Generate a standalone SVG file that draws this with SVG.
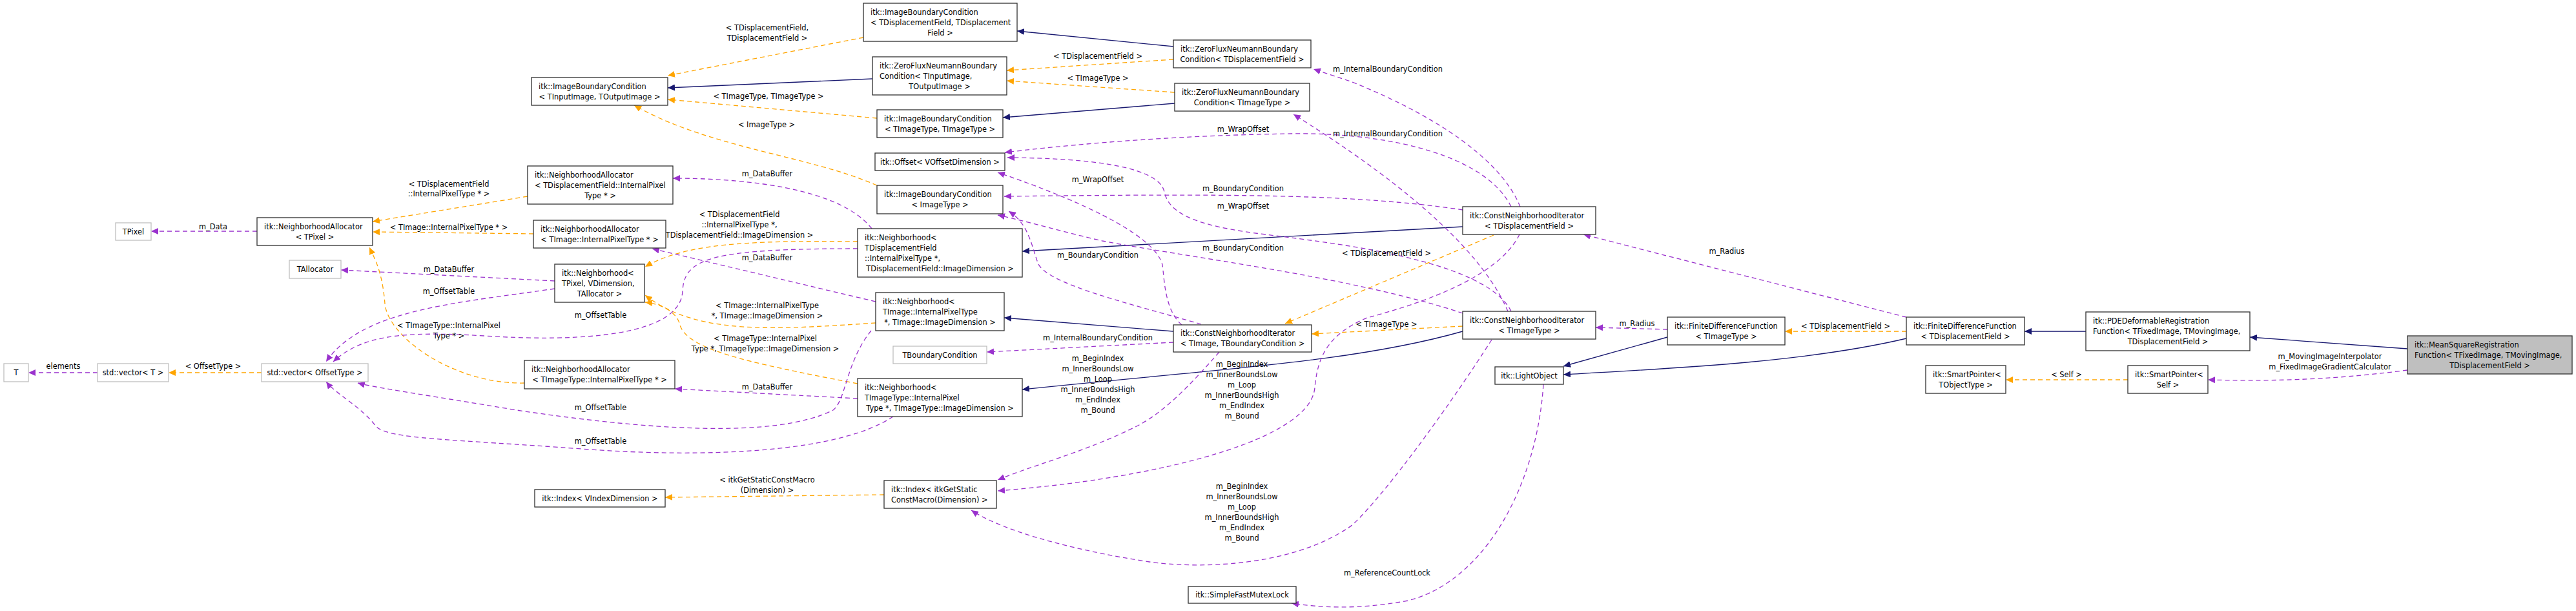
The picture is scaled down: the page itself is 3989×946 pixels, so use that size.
<svg xmlns="http://www.w3.org/2000/svg" width="3989" height="946" viewBox="0 0 3989 946">
<style>
text{font-family:"DejaVu Sans","Liberation Sans",sans-serif;font-size:11.4px;fill:#000}
.m{text-anchor:middle}
.b{fill:#fff;stroke:#303030;stroke-width:1.3}
.g{fill:#fff;stroke:#bfbfbf;stroke-width:1.3}
.main{fill:#bfbfbf;stroke:#303030;stroke-width:1.3}
.e{fill:none;stroke-width:1.3}
.nv{stroke:#191970;marker-end:url(#an)}
.or{stroke:#ffa500;stroke-dasharray:7,5;marker-end:url(#ao)}
.pu{stroke:#9a32cd;stroke-dasharray:7,5;marker-end:url(#ap)}
</style>
<defs>
<marker id="an" markerWidth="12" markerHeight="10" refX="11" refY="5" orient="auto" markerUnits="userSpaceOnUse"><path d="M0,0 L11,5 L0,10 Z" fill="#191970"/></marker>
<marker id="ao" markerWidth="12" markerHeight="10" refX="11" refY="5" orient="auto" markerUnits="userSpaceOnUse"><path d="M0,0 L11,5 L0,10 Z" fill="#ffa500"/></marker>
<marker id="ap" markerWidth="12" markerHeight="10" refX="11" refY="5" orient="auto" markerUnits="userSpaceOnUse"><path d="M0,0 L11,5 L0,10 Z" fill="#9a32cd"/></marker>
</defs>
<rect width="3989" height="946" fill="#fff"/>
<g id="connectors">
<path class="e nv" d="M3728,540 L3484,522"/>
<path class="e nv" d="M3230,513 L3135,513"/>
<path class="e nv" d="M2952,524 C2800,560 2600,570 2421,580"/>
<path class="e nv" d="M2582,522 L2421,567"/>
<path class="e nv" d="M2265,351 L1583,389"/>
<path class="e nv" d="M2265,513 C2100,560 1900,570 1583,603"/>
<path class="e nv" d="M1817,513 L1555,492"/>
<path class="e nv" d="M1817,72 L1575,48"/>
<path class="e nv" d="M1351,122 L1034,136"/>
<path class="e nv" d="M1819,160 L1553,182"/>

<path class="e or" d="M1337,58 L1034,117"/>
<path class="e or" d="M1358,183 L1034,154"/>
<path class="e or" d="M1358,287 C1250,240 1100,230 982,163"/>
<path class="e or" d="M1817,92 L1559,109"/>
<path class="e or" d="M1819,143 L1559,125"/>
<path class="e or" d="M817,304 L577,343"/>
<path class="e or" d="M826,362 L577,359"/>
<path class="e or" d="M812,593 C700,595 600,520 596,470 C592,420 580,400 572,383"/>
<path class="e or" d="M405,577 L261,577"/>
<path class="e or" d="M1328,374 C1150,372 1060,378 999,413"/>
<path class="e or" d="M1356,500 C1200,510 1080,520 999,457"/>
<path class="e or" d="M1328,594 C1150,560 1060,540 1052,500 C1045,480 1020,470 999,468"/>
<path class="e or" d="M1369,766 L1030,770"/>
<path class="e or" d="M2313,364 L1990,501"/>
<path class="e or" d="M2265,505 L2031,517"/>
<path class="e or" d="M2952,513 L2764,513"/>
<path class="e or" d="M3295,588 L3106,588"/>

<path class="e pu" d="M3728,573 C3600,590 3500,590 3419,588"/>
<path class="e pu" d="M2582,510 L2471,507"/>
<path class="e pu" d="M2952,491 L2452,363"/>
<path class="e pu" d="M151,577 L44,577"/>
<path class="e pu" d="M398,358 L234,358"/>
<path class="e pu" d="M859,435 L528,418"/>
<path class="e pu" d="M859,447 C700,470 560,480 505,560"/>
<path class="e pu" d="M1350,354 C1300,290 1150,276 1042,276"/>
<path class="e pu" d="M1328,385 C1100,385 1060,400 1057,450 C1055,520 900,530 750,520 C620,512 560,520 516,560"/>
<path class="e pu" d="M1356,467 L1010,385"/>
<path class="e pu" d="M1349,512 C1310,560 1310,620 1290,635 C1200,680 1000,665 800,635 C650,610 580,600 554,593"/>
<path class="e pu" d="M1328,617 L1045,602"/>
<path class="e pu" d="M1383,645 C1300,700 1100,710 900,695 C700,680 600,680 582,660 C560,630 520,610 505,591"/>
<path class="e pu" d="M1817,530 L1528,545"/>
<path class="e pu" d="M1888,545 C1840,600 1800,640 1760,660 C1680,700 1600,720 1545,743"/>
<path class="e pu" d="M2353,363 C2320,430 2200,470 2117,492 C2050,520 2040,560 2036,600 C2030,680 1800,740 1545,760"/>
<path class="e pu" d="M2310,526 C2250,620 2150,760 2094,813 C2000,880 1850,880 1780,870 C1650,850 1550,820 1504,790"/>
<path class="e pu" d="M2390,595 C2380,750 2300,900 2180,930 C2100,945 2040,940 2000,934"/>
<path class="e pu" d="M2354,320 C2330,260 2250,190 2094,127 L2034,107"/>
<path class="e pu" d="M2335,482 C2300,400 2200,300 2003,177"/>
<path class="e pu" d="M2340,320 C2300,240 2150,205 2000,207 C1800,210 1650,225 1556,236"/>
<path class="e pu" d="M2340,482 C2300,400 2050,375 1960,363 C1850,350 1810,330 1803,297 C1795,260 1700,245 1560,244"/>
<path class="e pu" d="M1830,503 C1803,480 1803,430 1800,410 C1790,370 1700,320 1545,267"/>
<path class="e pu" d="M2265,325 C2100,300 1900,300 1555,304"/>
<path class="e pu" d="M2265,485 C2100,430 1850,400 1707,373 C1650,360 1580,340 1545,333"/>
<path class="e pu" d="M1860,502 C1750,470 1620,440 1607,407 C1595,370 1590,345 1562,327"/>

<g class="m">
<text x="1188" y="47">&lt; TDisplacementField,</text><text x="1188" y="63">TDisplacementField &gt;</text>
<text x="1190" y="153">&lt; TImageType, TImageType &gt;</text>
<text x="1187" y="197">&lt; ImageType &gt;</text>
<text x="1700" y="91">&lt; TDisplacementField &gt;</text>
<text x="1700" y="125">&lt; TImageType &gt;</text>
<text x="695" y="289">&lt; TDisplacementField</text><text x="695" y="304">::InternalPixelType * &gt;</text>
<text x="695" y="356">&lt; TImage::InternalPixelType * &gt;</text>
<text x="695" y="508">&lt; TImageType::InternalPixel</text><text x="695" y="524">Type * &gt;</text>
<text x="330" y="571">&lt; OffsetType &gt;</text>
<text x="1145" y="336">&lt; TDisplacementField</text><text x="1145" y="352">::InternalPixelType *,</text><text x="1145" y="368">TDisplacementField::ImageDimension &gt;</text>
<text x="1188" y="477">&lt; TImage::InternalPixelType</text><text x="1188" y="493">*, TImage::ImageDimension &gt;</text>
<text x="1185" y="528">&lt; TImageType::InternalPixel</text><text x="1185" y="544">Type *, TImageType::ImageDimension &gt;</text>
<text x="1188" y="747">&lt; itkGetStaticConstMacro</text><text x="1188" y="763">(Dimension) &gt;</text>
<text x="2147" y="396">&lt; TDisplacementField &gt;</text>
<text x="2147" y="506">&lt; TImageType &gt;</text>
<text x="2858" y="509">&lt; TDisplacementField &gt;</text>
<text x="3200" y="584">&lt; Self &gt;</text>
<text x="3608" y="556">m_MovingImageInterpolator</text><text x="3608" y="572">m_FixedImageGradientCalculator</text>
<text x="2535" y="505">m_Radius</text>
<text x="2674" y="393">m_Radius</text>
<text x="98" y="571">elements</text>
<text x="330" y="355">m_Data</text>
<text x="695" y="421">m_DataBuffer</text>
<text x="695" y="455">m_OffsetTable</text>
<text x="1188" y="273">m_DataBuffer</text>
<text x="930" y="492">m_OffsetTable</text>
<text x="1188" y="403">m_DataBuffer</text>
<text x="930" y="635">m_OffsetTable</text>
<text x="1188" y="603">m_DataBuffer</text>
<text x="930" y="687">m_OffsetTable</text>
<text x="1700" y="527">m_InternalBoundaryCondition</text>
<text x="1700" y="559">m_BeginIndex</text><text x="1700" y="575">m_InnerBoundsLow</text><text x="1700" y="591">m_Loop</text><text x="1700" y="607">m_InnerBoundsHigh</text><text x="1700" y="623">m_EndIndex</text><text x="1700" y="639">m_Bound</text>
<text x="1923" y="568">m_BeginIndex</text><text x="1923" y="584">m_InnerBoundsLow</text><text x="1923" y="600">m_Loop</text><text x="1923" y="616">m_InnerBoundsHigh</text><text x="1923" y="632">m_EndIndex</text><text x="1923" y="648">m_Bound</text>
<text x="1923" y="757">m_BeginIndex</text><text x="1923" y="773">m_InnerBoundsLow</text><text x="1923" y="789">m_Loop</text><text x="1923" y="805">m_InnerBoundsHigh</text><text x="1923" y="821">m_EndIndex</text><text x="1923" y="837">m_Bound</text>
<text x="2148" y="891">m_ReferenceCountLock</text>
<text x="2149" y="111">m_InternalBoundaryCondition</text>
<text x="2149" y="211">m_InternalBoundaryCondition</text>
<text x="1925" y="204">m_WrapOffset</text>
<text x="1925" y="323">m_WrapOffset</text>
<text x="1700" y="282">m_WrapOffset</text>
<text x="1925" y="296">m_BoundaryCondition</text>
<text x="1925" y="388">m_BoundaryCondition</text>
<text x="1700" y="399">m_BoundaryCondition</text>
</g>
</g>

<g id="n_T"><rect class="g" x="6" y="563" width="38" height="28"/><text class="m" x="25" y="581">T</text></g>
<g id="n_vecT"><rect class="g" x="151" y="563" width="110" height="28"/><text class="m" x="206" y="581">std::vector&lt; T &gt;</text></g>
<g id="n_vecOff"><rect class="g" x="405" y="563" width="165" height="28"/><text class="m" x="487.5" y="581">std::vector&lt; OffsetType &gt;</text></g>
<g id="n_TPixel"><rect class="g" x="179" y="345" width="55" height="27"/><text class="m" x="206.5" y="362.5">TPixel</text></g>
<g id="n_NA_TPixel"><rect class="b" x="398" y="337" width="179" height="43"/><text x="409" y="354.5">itk::NeighborhoodAllocator</text><text class="m" x="487.5" y="370.5">&lt; TPixel &gt;</text></g>
<g id="n_TAllocator"><rect class="g" x="448" y="403" width="80" height="28"/><text class="m" x="488" y="421">TAllocator</text></g>
<g id="n_NA_DF"><rect class="b" x="817" y="257" width="225" height="59"/><text x="828" y="274.5">itk::NeighborhoodAllocator</text><text x="828" y="290.5">&lt; TDisplacementField::InternalPixel</text><text class="m" x="929.5" y="306.5">Type * &gt;</text></g>
<g id="n_NA_TImage"><rect class="b" x="826" y="341" width="205" height="43"/><text x="837" y="358.5">itk::NeighborhoodAllocator</text><text class="m" x="928.5" y="374.5">&lt; TImage::InternalPixelType * &gt;</text></g>
<g id="n_Nbh_TPixel"><rect class="b" x="859" y="409" width="139" height="59"/><text x="870" y="426.5">itk::Neighborhood&lt;</text><text x="870" y="442.5">TPixel, VDimension,</text><text class="m" x="928.5" y="458.5">TAllocator &gt;</text></g>
<g id="n_NA_TImageType"><rect class="b" x="812" y="558" width="233" height="44"/><text x="823" y="576">itk::NeighborhoodAllocator</text><text class="m" x="928.5" y="592">&lt; TImageType::InternalPixelType * &gt;</text></g>
<g id="n_IBC_In"><rect class="b" x="823" y="120" width="211" height="43"/><text x="834" y="137.5">itk::ImageBoundaryCondition</text><text class="m" x="928.5" y="153.5">&lt; TInputImage, TOutputImage &gt;</text></g>
<g id="n_IBC_DF"><rect class="b" x="1337" y="5" width="238" height="59"/><text x="1348" y="22.5">itk::ImageBoundaryCondition</text><text x="1348" y="38.5">&lt; TDisplacementField, TDisplacement</text><text class="m" x="1456" y="54.5">Field &gt;</text></g>
<g id="n_ZF_In"><rect class="b" x="1351" y="88" width="208" height="59"/><text x="1362" y="105.5">itk::ZeroFluxNeumannBoundary</text><text x="1362" y="121.5">Condition&lt; TInputImage,</text><text class="m" x="1455" y="137.5">TOutputImage &gt;</text></g>
<g id="n_IBC_TT"><rect class="b" x="1358" y="170" width="195" height="43"/><text x="1369" y="187.5">itk::ImageBoundaryCondition</text><text class="m" x="1455.5" y="203.5">&lt; TImageType, TImageType &gt;</text></g>
<g id="n_Offset"><rect class="b" x="1355" y="237" width="201" height="27"/><text class="m" x="1455.5" y="254.5">itk::Offset&lt; VOffsetDimension &gt;</text></g>
<g id="n_IBC_Img"><rect class="b" x="1358" y="287" width="195" height="44"/><text x="1369" y="305">itk::ImageBoundaryCondition</text><text class="m" x="1455.5" y="321">&lt; ImageType &gt;</text></g>
<g id="n_Nbh_DF"><rect class="b" x="1328" y="354" width="255" height="75"/><text x="1339" y="371.5">itk::Neighborhood&lt;</text><text x="1339" y="387.5"> TDisplacementField</text><text x="1339" y="403.5">::InternalPixelType *,</text><text class="m" x="1455.5" y="419.5">TDisplacementField::ImageDimension &gt;</text></g>
<g id="n_Nbh_TImage"><rect class="b" x="1356" y="453" width="199" height="59"/><text x="1367" y="470.5">itk::Neighborhood&lt;</text><text x="1367" y="486.5"> TImage::InternalPixelType</text><text class="m" x="1455.5" y="502.5">*, TImage::ImageDimension &gt;</text></g>
<g id="n_TBC"><rect class="g" x="1383" y="536" width="145" height="27"/><text class="m" x="1455.5" y="553.5">TBoundaryCondition</text></g>
<g id="n_Nbh_TIT"><rect class="b" x="1328" y="586" width="255" height="59"/><text x="1339" y="603.5">itk::Neighborhood&lt;</text><text x="1339" y="619.5"> TImageType::InternalPixel</text><text class="m" x="1455.5" y="635.5">Type *, TImageType::ImageDimension &gt;</text></g>
<g id="n_Index_V"><rect class="b" x="828" y="758" width="202" height="27"/><text class="m" x="929" y="775.5">itk::Index&lt; VIndexDimension &gt;</text></g>
<g id="n_Index_G"><rect class="b" x="1369" y="744" width="174" height="43"/><text x="1380" y="761.5">itk::Index&lt; itkGetStatic</text><text x="1380" y="777.5">ConstMacro(Dimension) &gt;</text></g>
<g id="n_ZF_DF"><rect class="b" x="1817" y="62" width="213" height="43"/><text x="1828" y="79.5">itk::ZeroFluxNeumannBoundary</text><text class="m" x="1923.5" y="95.5">Condition&lt; TDisplacementField &gt;</text></g>
<g id="n_ZF_TT"><rect class="b" x="1819" y="129" width="209" height="43"/><text x="1830" y="146.5">itk::ZeroFluxNeumannBoundary</text><text class="m" x="1923.5" y="162.5">Condition&lt; TImageType &gt;</text></g>
<g id="n_CNI_DF"><rect class="b" x="2265" y="320" width="206" height="43"/><text x="2276" y="337.5">itk::ConstNeighborhoodIterator</text><text class="m" x="2368" y="353.5">&lt; TDisplacementField &gt;</text></g>
<g id="n_CNI_TT"><rect class="b" x="2265" y="482" width="206" height="43"/><text x="2276" y="499.5">itk::ConstNeighborhoodIterator</text><text class="m" x="2368" y="515.5">&lt; TImageType &gt;</text></g>
<g id="n_CNI_TB"><rect class="b" x="1817" y="503" width="214" height="42"/><text x="1828" y="520">itk::ConstNeighborhoodIterator</text><text class="m" x="1924" y="536">&lt; TImage, TBoundaryCondition &gt;</text></g>
<g id="n_Light"><rect class="b" x="2315" y="568" width="106" height="27"/><text class="m" x="2368" y="585.5">itk::LightObject</text></g>
<g id="n_Mutex"><rect class="b" x="1840" y="908" width="167" height="26"/><text class="m" x="1923.5" y="925">itk::SimpleFastMutexLock</text></g>
<g id="n_FDF_TT"><rect class="b" x="2582" y="491" width="182" height="43"/><text x="2593" y="508.5">itk::FiniteDifferenceFunction</text><text class="m" x="2673" y="524.5">&lt; TImageType &gt;</text></g>
<g id="n_FDF_DF"><rect class="b" x="2952" y="491" width="183" height="43"/><text x="2963" y="508.5">itk::FiniteDifferenceFunction</text><text class="m" x="3043.5" y="524.5">&lt; TDisplacementField &gt;</text></g>
<g id="n_PDE"><rect class="b" x="3230" y="483" width="254" height="60"/><text x="3241" y="501">itk::PDEDeformableRegistration</text><text x="3241" y="517">Function&lt; TFixedImage, TMovingImage,</text><text class="m" x="3357" y="533">TDisplacementField &gt;</text></g>
<g id="n_SP_T"><rect class="b" x="2982" y="566" width="124" height="43"/><text x="2993" y="583.5">itk::SmartPointer&lt;</text><text class="m" x="3044" y="599.5">TObjectType &gt;</text></g>
<g id="n_SP_Self"><rect class="b" x="3295" y="566" width="124" height="43"/><text x="3306" y="583.5">itk::SmartPointer&lt;</text><text class="m" x="3357" y="599.5">Self &gt;</text></g>
<g id="n_MSR"><rect class="main" x="3728" y="520" width="255" height="59"/><text x="3739" y="537.5">itk::MeanSquareRegistration</text><text x="3739" y="553.5">Function&lt; TFixedImage, TMovingImage,</text><text class="m" x="3855.5" y="569.5">TDisplacementField &gt;</text></g>
</svg>
